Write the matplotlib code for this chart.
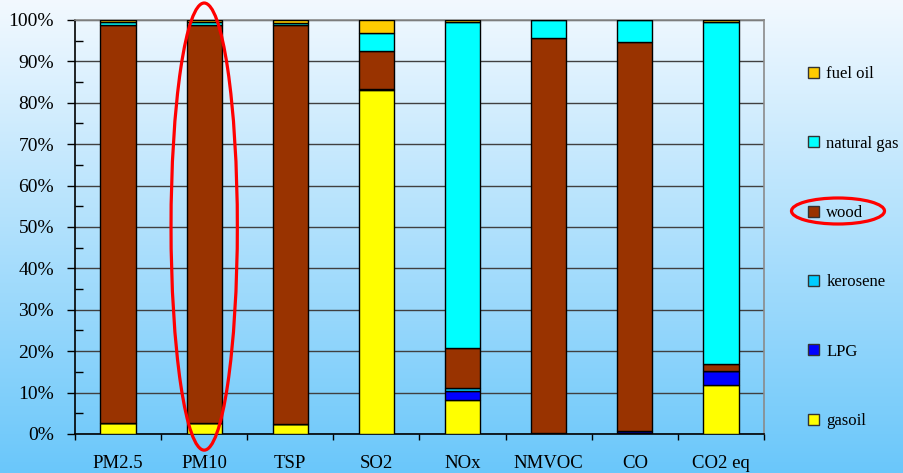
import numpy as np
import matplotlib
matplotlib.use("Agg")
import matplotlib.pyplot as plt
from matplotlib.patches import Ellipse, Patch
from matplotlib.ticker import MultipleLocator, FixedLocator

categories = ["PM2.5", "PM10", "TSP", "SO2", "NOx", "NMVOC", "CO", "CO2 eq"]
gasoil      = [2.7, 2.7, 2.3, 83.0, 8.2, 0.3, 0.3, 11.8]
lpg         = [0.0, 0.0, 0.0, 0.3, 2.2, 0.0, 0.4, 3.4]
kerosene    = [0.0, 0.0, 0.0, 0.0, 0.6, 0.0, 0.0, 0.0]
wood        = [96.1, 96.1, 96.5, 9.3, 9.8, 95.4, 94.1, 1.6]
natural_gas = [0.8, 0.8, 0.4, 4.2, 78.6, 4.3, 5.2, 82.8]
fuel_oil    = [0.4, 0.4, 0.8, 3.2, 0.6, 0.0, 0.0, 0.4]

series_names = ["gasoil", "LPG", "kerosene", "wood", "natural gas", "fuel oil"]
series_vals = [gasoil, lpg, kerosene, wood, natural_gas, fuel_oil]
series_cols = ["#FFFF00", "#0000FF", "#00CCFF", "#993300", "#00FFFF", "#FFCC00"]
yticks = [0, 10, 20, 30, 40, 50, 60, 70, 80, 90, 100]

plt.rcParams['font.family'] = ['Liberation Serif', 'DejaVu Serif']

W, H = 904, 473
fig = plt.figure(figsize=(W / 100, H / 100), dpi=100)

# gradient background
bg = fig.add_axes([0, 0, 1, 1], zorder=-10)
grad = np.linspace(0, 1, 256)[:, None]
top = np.array([243, 249, 255]) / 255.0
bot = np.array([106, 199, 250]) / 255.0
img = top[None, None, :] * (1 - grad[:, :, None]) + bot[None, None, :] * grad[:, :, None]
bg.imshow(img, aspect='auto', extent=[0, 1, 0, 1])
bg.set_axis_off()

ax = fig.add_axes([75 / W, 1 - 434 / H, (764 - 75) / W, (434 - 20) / H])
ax.patch.set_alpha(0)

x = np.arange(len(categories))
bottom = np.zeros(len(categories))
for name, vals, col in zip(series_names, series_vals, series_cols):
    v = np.array(vals)
    ax.bar(x, v, width=0.41, bottom=bottom, color=col, edgecolor='black',
           linewidth=1.0, label=name, zorder=3)
    bottom += v

ax.set_xlim(-0.5, len(categories) - 0.5)
ax.set_ylim(0, 100)
ax.set_yticks(yticks)
ax.set_yticklabels([f"{t}%" for t in yticks], fontsize=14)
ax.yaxis.set_minor_locator(MultipleLocator(5))
ax.tick_params(axis='y', which='major', direction='out', length=6, width=1, pad=9, colors='black')
ax.tick_params(axis='y', which='minor', direction='in', length=6, width=1)
ax.grid(axis='y', which='major', color='#404040', linewidth=1.0, zorder=1)

ax.set_xticks(x)
ax.set_xticklabels(categories, fontsize=13.5)
ax.xaxis.set_minor_locator(FixedLocator(np.arange(-0.5, len(categories), 1.0)))
ax.tick_params(axis='x', which='major', length=0, pad=15)
ax.tick_params(axis='x', which='minor', direction='out', length=4, width=1)

for s in ['left', 'bottom']:
    ax.spines[s].set_color('black')
    ax.spines[s].set_linewidth(1.2)
for s in ['top', 'right']:
    ax.spines[s].set_color('#8a8a8a')
    ax.spines[s].set_linewidth(1.2)

# legend (reverse order, top = fuel oil)
handles = [Patch(facecolor=c, edgecolor='#333333', linewidth=1.0) for c in series_cols][::-1]
leg = fig.legend(handles, series_names[::-1], loc='upper left',
                 bbox_to_anchor=(800 / W, 1 - 58 / H), frameon=False,
                 fontsize=12, handlelength=0.62, handleheight=0.62,
                 handletextpad=0.45, labelspacing=3.2, borderpad=0)

# red ellipses
ax.add_patch(Ellipse((1, 50.1), 0.77, 108, transform=ax.transData, fill=False,
                     edgecolor='red', linewidth=2.3, clip_on=False, zorder=10))
fig.add_artist(Ellipse((838 / W, 1 - 211 / H), 93 / W, 26 / H,
                       transform=fig.transFigure, fill=False,
                       edgecolor='red', linewidth=2.3, zorder=10))

fig.savefig("out.png", dpi=100)
